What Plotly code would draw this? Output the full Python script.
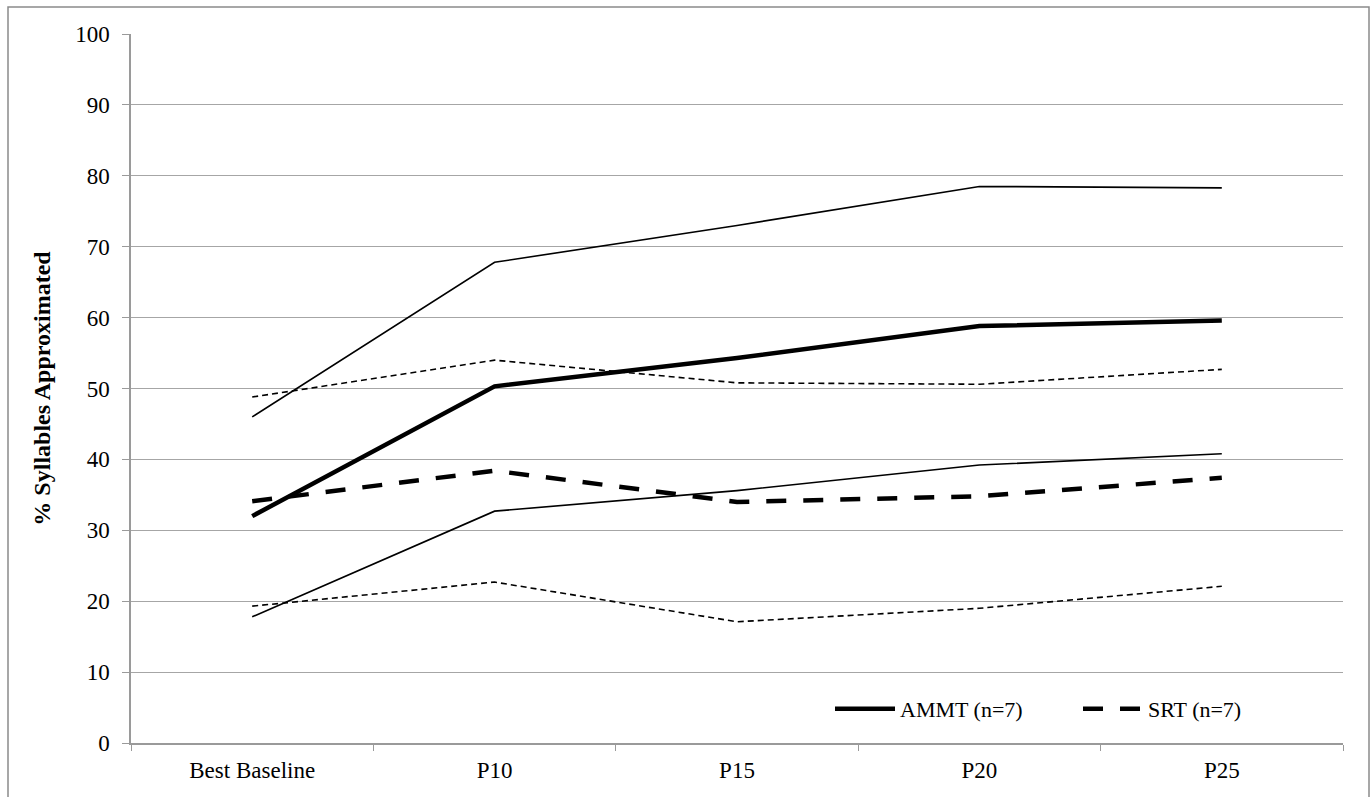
import plotly.graph_objects as go

categories = ["Best Baseline", "P10", "P15", "P20", "P25"]
ammt_mean = [32.0, 50.3, 54.3, 58.8, 59.6]
ammt_upper = [46.0, 67.8, 73.0, 78.5, 78.3]
ammt_lower = [17.8, 32.7, 35.6, 39.2, 40.8]
srt_mean = [34.1, 38.4, 34.0, 34.8, 37.4]
srt_upper = [48.8, 54.0, 50.8, 50.6, 52.7]
srt_lower = [19.3, 22.7, 17.1, 19.0, 22.1]
y_ticks = list(range(0, 101, 10))

W, H = 1372, 797
L, R, T, B = 131, 29, 34, 54
pw, ph = W - L - R, H - T - B

FONT = '"Liberation Serif", "Times New Roman", serif'

fig = go.Figure()
thin_dash = "6px,4px"
fig.add_trace(go.Scatter(x=categories, y=ammt_upper, mode="lines", line=dict(color="black", width=1.6), showlegend=False))
fig.add_trace(go.Scatter(x=categories, y=ammt_lower, mode="lines", line=dict(color="black", width=1.6), showlegend=False))
fig.add_trace(go.Scatter(x=categories, y=srt_upper, mode="lines", line=dict(color="black", width=1.6, dash=thin_dash), showlegend=False))
fig.add_trace(go.Scatter(x=categories, y=srt_lower, mode="lines", line=dict(color="black", width=1.6, dash=thin_dash), showlegend=False))
fig.add_trace(go.Scatter(x=categories, y=ammt_mean, mode="lines", name="AMMT (n=7)", line=dict(color="black", width=4.5)))
fig.add_trace(go.Scatter(x=categories, y=srt_mean, mode="lines", name="SRT (n=7)", line=dict(color="black", width=4.5, dash="20px,17px")))

def px_x(p):
    return (p - L) / pw

def px_y(p):
    return (H - B - p) / ph

fig.add_shape(type="rect", xref="paper", yref="paper",
              x0=px_x(8), x1=px_x(1369), y0=px_y(805), y1=px_y(7),
              line=dict(color="#8a8a8a", width=1.5), layer="below")

fig.update_layout(
    width=W, height=H,
    margin=dict(l=L, r=R, t=T, b=B, autoexpand=False),
    paper_bgcolor="white", plot_bgcolor="white",
    font=dict(family=FONT, size=22, color="black"),
    legend=dict(orientation="h", x=px_x(830), y=px_y(730), xanchor="left", yanchor="bottom",
                font=dict(family=FONT, size=22), bgcolor="rgba(0,0,0,0)",
                entrywidth=173, entrywidthmode="pixels", itemwidth=60,
                traceorder="normal"),
    xaxis=dict(type="category", range=[-0.5, 4.5], showgrid=False,
               showline=True, linecolor="#9a9a9a", linewidth=1.5,
               ticks="outside", tickson="boundaries", ticklen=6, tickcolor="#9a9a9a",
               ticklabelstandoff=6,
               tickfont=dict(family=FONT, size=23)),
    yaxis=dict(range=[0, 100], tickvals=y_ticks, showgrid=True, gridcolor="#a6a6a6", gridwidth=1.3,
               showline=True, linecolor="#9a9a9a", linewidth=1.5,
               ticks="outside", ticklen=7, tickcolor="#9a9a9a", zeroline=False,
               ticklabelstandoff=8,
               tickfont=dict(family=FONT, size=23),
               title=dict(text="<b>% Syllables Approximated</b>", font=dict(family=FONT, size=24), standoff=18)),
)

fig.write_html("out.html")
